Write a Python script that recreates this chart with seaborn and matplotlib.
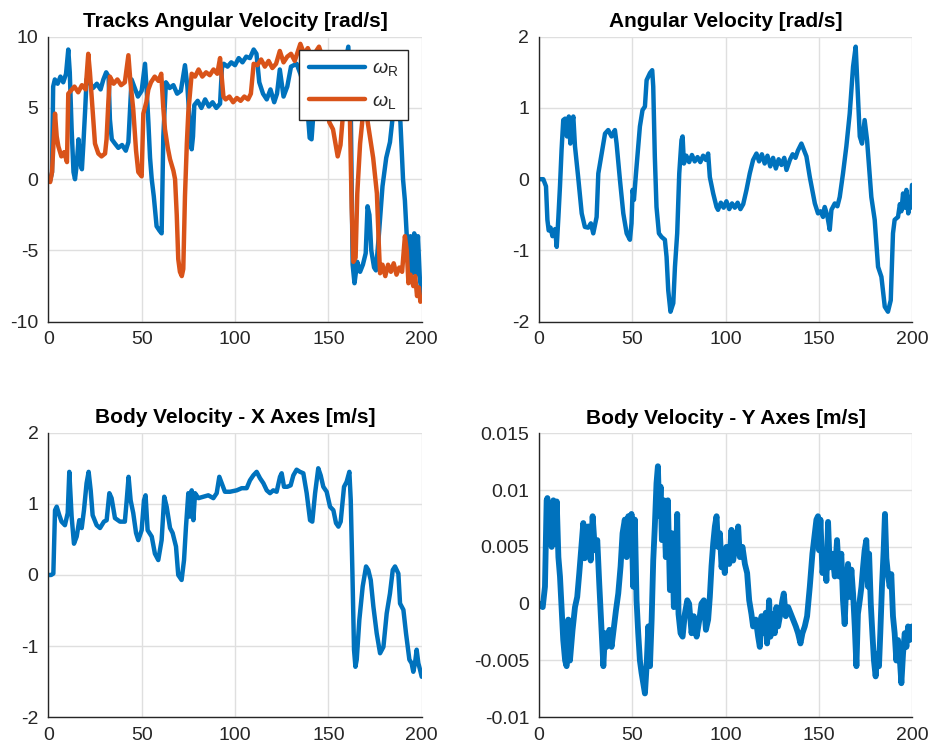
import matplotlib
matplotlib.use("Agg")
import matplotlib.pyplot as plt
import numpy as np
import pandas as pd
import seaborn as sns

# ---------------- data ----------------
# Track angular velocities
t_wr = [0, 1, 2, 2.6, 3.5, 5, 6.5, 8, 9.5, 10.7, 11.5, 12.5, 13.5, 14.3, 15.2, 16.2, 17, 18,
        18.8, 19.8, 20.5, 22, 24, 26, 28, 29.5, 31, 32.3, 33, 34, 35.7, 37.5, 39.5, 41.5, 42.9,
        43.8, 44.6, 46, 48, 50, 51.8, 52.8, 53.6, 54.5, 55.4, 56.5, 58, 59.5, 60.7, 61.6, 63,
        65, 67, 69, 71, 73.2, 74.5, 75.5, 76.8, 77.5, 78.2, 80, 82, 84, 86, 88, 90, 92, 93, 94,
        96, 98, 100, 102, 104, 106, 108, 110, 111.5, 113, 115, 117, 119, 121, 122.5, 124, 126,
        128, 130, 133, 135, 137, 138.5, 140, 141, 142.5, 144, 147, 150, 153, 156, 158.5, 160.7,
        162, 163, 164, 165.5, 167, 168.5, 170, 171, 172, 173, 174.5, 175.5, 177, 179, 181, 183,
        185, 186.5, 188.6, 190, 191, 192, 193, 194, 195, 196, 197, 198, 199, 200]
w_r = [0, -0.1, 0.5, 6.5, 7.0, 6.7, 7.2, 6.8, 7.4, 9.1, 7.5, 3.5, 0.5, 0.0, 1.0, 2.8, 1.2, 0.7,
       2.5, 5.0, 7.0, 6.8, 6.4, 6.7, 6.3, 7.0, 7.5, 7.2, 4.2, 2.8, 2.5, 2.2, 2.4, 2.0, 2.6,
       5.0, 7.0, 6.5, 5.8, 6.2, 8.1, 6.0, 4.0, 1.5, 0.0, -1.2, -3.3, -3.6, -3.8, 3.0, 6.8,
       6.4, 6.6, 6.0, 6.2, 8.0, 6.5, 4.5, 2.1, 3.0, 5.2, 5.5, 5.0, 5.6, 5.1, 5.4, 5.0, 5.3, 7.8, 8.1,
       7.9, 8.2, 8.0, 8.5, 8.2, 8.6, 8.5, 9.1, 8.8, 6.8, 6.0, 5.6, 6.3, 5.4, 6.0, 7.7, 5.8,
       6.5, 7.9, 8.1, 7.4, 6.5, 5.5, 2.9, 2.8, 5.5, 7.2, 7.6, 7.2, 7.5, 7.0, 7.8, 9.3,
       5.0, -6.0, -7.3, -5.8, -6.5, -6.0, -5.2, -1.9, -2.5, -5.0, -6.2, -6.4, -4.0, -0.5, 1.5, 2.6,
       5.0, 6.0, 4.0, 0.0, -1.5, -4.0, -6.5, -4.0, -6.6, -3.8, -6.7, -4.0, -7.0, -8.0]

t_wl = [0, 1, 2, 3, 3.6, 4.5, 5.4, 7, 8.5, 10, 10.7, 12, 14, 16, 18, 20, 21.4, 22.3, 23.2, 25,
        26.8, 28.5, 30.4, 31.2, 32.2, 33, 35, 37, 39, 41, 42.9, 44, 45.5, 47, 48.2, 50, 50.9,
        52.5, 53.6, 55, 57, 59, 60.5, 61.6, 62.5, 64, 65.2, 67, 67.9, 68.8, 69.6, 70.5, 71.5,
        72.3, 73.2, 74.2, 75, 76.8, 78.6, 80.5, 82.5, 84.5, 86.5, 88.5, 90.5, 92, 93, 93.8, 95,
        97, 99, 101, 103, 105, 107, 108.5, 110, 112, 114, 116, 118, 120, 122, 124, 126, 128,
        130, 132, 135, 137, 139, 141, 143, 145, 147, 149, 150.5, 152.5, 155, 156.5, 157.5, 159,
        160.5, 161.6, 162.5, 163.4, 164.6, 165.5, 167, 168.5, 169.6, 170.5, 172, 174, 176, 177,
        177.7, 179, 180.5, 182, 183.5, 185, 186.5, 188, 189.5, 191, 192, 192.9, 194, 195.5,
        196.5, 197.5, 198.5, 199.3, 200]
w_l = [0, -0.2, 0.5, 3.0, 4.6, 3.0, 2.3, 1.6, 1.9, 1.2, 6.0, 6.2, 6.5, 6.1, 6.6, 6.3, 8.8, 7.5,
       5.8, 2.5, 1.8, 1.6, 1.8, 2.8, 5.5, 7.2, 6.7, 7.0, 6.6, 6.8, 8.7, 6.8, 4.9, 2.0, 0.5, 0.2,
       4.6, 5.4, 6.3, 6.8, 7.2, 6.9, 7.4, 5.0, 3.5, 2.2, 1.4, 0.6, 0.0, -2.5, -5.6, -6.5, -6.8,
       -6.3, -1.2, 2.5, 4.7, 7.4, 7.2, 7.7, 7.2, 7.5, 7.3, 7.7, 7.4, 8.5, 7.0, 5.8, 5.6,
       5.8, 5.4, 5.7, 5.5, 5.8, 5.6, 6.0, 8.1, 8.0, 8.4, 7.9, 8.3, 7.8, 8.1, 9.0, 8.2, 8.6,
       8.8, 8.3, 9.5, 8.8, 9.2, 8.6, 8.9, 9.3, 8.5, 6.0, 4.0, 3.5, 1.6, 2.4, 4.0, 6.5,
       7.5, 4.0, -2.0, -5.8, -5.5, -1.0, 2.5, 4.5, 5.0, 4.5, 3.2, 1.5, -1.0, -4.5,
       -6.6, -6.0, -6.8, -6.0, -6.5, -5.9, -6.7, -6.2, -6.5, -4.0, -5.0, -7.3, -6.7, -7.5,
       -6.8, -8.2, -7.6, -8.6, -8.3]

# Body angular velocity
t_om = [0, 2.3, 3.75, 4.5, 5.2, 6.2, 7.2, 8.6, 9.5, 10.4, 11.25, 12.1, 13, 14, 15, 16, 16.8,
        17.5, 18.4, 19.3, 21, 22.9, 24.6, 26.4, 27.8, 29.1, 30.9, 31.8, 33.6, 35.4, 37.1, 38.9,
        40.7, 41.6, 43.4, 45.2, 47, 48.75, 49.6, 50.2, 50.9, 52, 54.1, 55.5, 56.8, 57.7, 59.5,
        60.7, 61.25, 62.1, 63, 64.3, 65.7, 67.5, 68.4, 69.3, 70.5, 72, 72.9, 74.1, 75.2, 76.4,
        77, 77.7, 79, 80.5, 82, 83.5, 85, 86.5, 88, 89.5, 90.7, 91.6, 93.4, 95.2, 96, 97.5, 99,
        100.5, 102, 103.5, 105, 106.5, 108, 109.5, 111.25, 113, 114.8, 116.6, 118, 119.5, 121,
        122.5, 124, 125.5, 127, 128.5, 130, 131.5, 132.7, 134.5, 136, 137.5, 138.8, 140.7,
        143.4, 145.2, 147.9, 149.6, 151, 152.3, 153.2, 154.5, 155.9, 156.8, 158.6, 160,
        161.25, 163, 164.8, 166.6, 168.4, 169.8, 170.7, 172, 173.2, 174.6, 175.9, 178.2, 180,
        181.8, 183.6, 185.4, 187.1, 188.6, 189.8, 190.7, 192.5, 193.5, 194.3, 195.2, 196.1, 197,
        198, 198.75, 199.4, 200]
omega = [0, 0.0, -0.1, -0.57, -0.72, -0.68, -0.8, -0.7, -0.95, -0.53, -0.1, 0.41, 0.83, 0.85,
         0.6, 0.88, 0.5, 0.75, 0.88, 0.46, 0.03, -0.48, -0.67, -0.68, -0.62, -0.76, -0.53,
         0.08, 0.36, 0.64, 0.69, 0.6, 0.69, 0.5, -0.01, -0.48, -0.76, -0.85, -0.62, -0.15,
         -0.29, 0.08, 0.74, 0.97, 1.02, 1.39, 1.49, 1.53, 1.3, 0.32, -0.39, -0.76, -0.81,
         -0.85, -1.09, -1.56, -1.86, -1.74, -1.23, -0.76, 0.08, 0.55, 0.6, 0.22, 0.33, 0.24,
         0.34, 0.25, 0.31, 0.24, 0.33, 0.27, 0.36, 0.03, -0.2, -0.39, -0.43, -0.33, -0.4,
         -0.31, -0.42, -0.34, -0.4, -0.33, -0.42, -0.35, -0.15, 0.08, 0.27, 0.36, 0.25, 0.35,
         0.22, 0.33, 0.18, 0.3, 0.15, 0.28, 0.2, 0.3, 0.13, 0.27, 0.35, 0.3, 0.4, 0.5,
         0.32, 0.03, -0.34, -0.48, -0.45, -0.53, -0.39, -0.5, -0.71, -0.43, -0.34, -0.38,
         -0.25, 0.08, 0.46, 0.92, 1.58, 1.86, 1.35, 0.6, 0.5, 0.83, 0.55, -0.25, -0.57,
         -1.23, -1.37, -1.79, -1.86, -1.7, -0.76, -0.57, -0.53, -0.35, -0.45, -0.2, -0.4, -0.15,
         -0.48, -0.25, -0.4, -0.08]

# Body velocity along X
t_vx = [0, 1.5, 2.7, 3.6, 4.5, 5.9, 7.1, 8.9, 10.4, 11.25, 12.5, 13.75, 15.2, 16.6, 17.9, 19.1,
        20.5, 21.6, 22.7, 23.75, 25.9, 27.7, 29.8, 31.25, 32.7, 33.9, 35.7, 38.4, 41, 42, 43,
        44.1, 45.5, 47, 48.2, 50, 51.25, 52.1, 53.2, 55.4, 57.1, 58.9, 60.7, 62.1, 63.4, 65.2,
        66.6, 68.4, 69.6, 71.4, 72.7, 73.75, 75, 75.9, 76.8, 77.7, 78.6, 80.4, 83, 85.7, 88.4,
        90.2, 91.6, 92.9, 94.6, 97.3, 100.9, 103.6, 106.25, 108, 109.8, 111.6, 113.4, 115.2,
        117, 118.75, 120.5, 122.3, 124.1, 125, 126.25, 128, 129.8, 131.25, 133, 134.8, 136.6,
        138.4, 140.2, 141.4, 142.9, 144.6, 145.9, 147.3, 149.1, 150.9, 152.7, 154.1, 155.4,
        156.6, 158.4, 159.8, 161.25, 162, 162.9, 163.75, 164.5, 165.2, 166.6, 168.4, 170.2,
        171.4, 172.7, 174.1, 175.9, 177.7, 179.5, 181.25, 183, 184.5, 185.7, 187.5, 188.4,
        190.2, 191.6, 193.4, 194.6, 195.5, 196.4, 197.3, 198.2, 199.1, 200]
v_x = [0, 0, 0.02, 0.91, 0.96, 0.84, 0.75, 0.7, 0.87, 1.45, 0.82, 0.44, 0.54, 0.77, 0.66, 0.91,
       1.29, 1.45, 1.19, 0.84, 0.7, 0.66, 0.75, 0.77, 1.15, 1.08, 0.8, 0.75, 0.75, 1.05, 1.38,
       1.05, 0.87, 0.59, 0.49, 0.63, 1.05, 1.12, 0.63, 0.54, 0.3, 0.21, 0.49, 1.1, 0.96, 0.66,
       0.59, 0.4, 0.0, -0.07, 0.21, 0.68, 1.15, 0.82, 1.19, 0.77, 1.15, 1.08, 1.1, 1.12, 1.08,
       1.15, 1.38, 1.29, 1.17, 1.17, 1.19, 1.22, 1.22, 1.33, 1.4, 1.45, 1.36, 1.29,
       1.19, 1.15, 1.19, 1.17, 1.38, 1.43, 1.24, 1.24, 1.26, 1.4, 1.48, 1.45, 1.43,
       1.15, 0.77, 0.75, 1.15, 1.5, 1.4, 1.24, 1.17, 0.96, 0.91, 0.73, 0.68,
       0.75, 1.24, 1.31, 1.45, 1.05, 0.02, -1.05, -1.29, -1.19, -0.63, -0.16, 0.12,
       0.07, -0.07, -0.44, -0.82, -1.1, -1.01, -0.54, -0.26, 0.07, 0.12, 0.02, -0.4,
       -0.49, -0.82, -1.19, -1.24, -1.36, -1.24, -1.05, -1.24, -1.33, -1.43]

# Body velocity along Y
t_vy = [0, 1, 2, 3.2, 4.1, 4.5, 5, 5.9, 6.8, 7.7, 8.6, 9.5, 10.4, 11.25, 12.1, 13, 14, 14.8,
        15.7, 16.6, 18, 19.3, 20.5, 21.6, 22.9, 23.75, 24.5, 25.2, 26.4, 27.7, 28.75, 30, 31.25,
        32.3, 33.6, 34.5, 35.4, 36.25, 37.7, 38.9, 40.2, 41.25, 42.5, 43.75, 44.8, 46, 47,
        47.9, 48.75, 49.6, 50.5, 51.4, 52.3, 53.2, 54.1, 55, 55.9, 56.8, 57.7, 58.6, 59.5,
        60.4, 61.25, 62.1, 63, 63.75, 64.5, 65.2, 65.9, 67, 68, 69.1, 70.2, 71.4, 72.3, 73.4,
        74.1, 74.8, 75.9, 77, 78.2, 79.5, 80.5, 81.8, 83, 84.5, 85.9, 87.1, 88.4, 89.5, 90.7,
        91.6, 92.5, 93.4, 94.3, 95.2, 96, 97, 97.9, 98.75, 99.6, 100.5, 102, 103.2, 104.1,
        105.5, 106.8, 107.7, 109.1, 110.4, 111.6, 112.7, 113.9, 114.8, 116.25, 117.5, 118.4,
        119.3, 120.5, 121.6, 122.3, 123.4, 124.1, 125.2, 126.4, 127.3, 128.2, 129.5, 130.5,
        131.25, 132.3, 133.6, 134.8, 136.25, 137.7, 138.9, 140.2, 141.25, 142.5, 143.75,
        145.2, 146.6, 147.9, 148.75, 149.6, 150.2, 150.9, 152, 153.2, 154.1, 155, 155.9,
        157.3, 158.6, 159.8, 160.9, 162.1, 163, 163.9, 164.8, 165.7, 166.6, 167.5, 168.4,
        169.3, 170.2, 171, 172, 172.9, 173.75, 174.6, 175.5, 176.4, 177, 177.9, 178.75,
        179.6, 180.5, 181.4, 182.3, 183, 183.9, 184.8, 185.5, 186.25, 187.1, 188, 188.9,
        189.8, 190.7, 191.6, 192.5, 193.4, 194.3, 195.2, 196.1, 197, 197.9, 198.75, 199.6, 200]
v_y = [0, -0.0002, -0.0003, 0.0015, 0.0091, 0.0093, 0.0056, 0.0085, 0.005, 0.0091, 0.0053,
       0.009, 0.0041, 0.0024, -0.0003, -0.0032, -0.005, -0.0055, -0.0014, -0.005, -0.0023,
       -0.0003, 0.0006, 0.0027, 0.0053, 0.0071, 0.004, 0.0053, 0.0068, 0.0038, 0.0077, 0.0047,
       0.0056, 0.0018, -0.0026, -0.0055, -0.0026, -0.0038, -0.0023, -0.0038, -0.002, -0.0006,
       0.0009, 0.0033, 0.0062, 0.0074, 0.0041, 0.0077, 0.005, 0.0079, 0.0015, 0.0074, 0.0003,
       -0.0026, -0.005, -0.0061, -0.007, -0.0079, -0.0055, -0.002, -0.0055, -0.0014, 0.0038,
       0.0068, 0.0106, 0.0121, 0.0077, 0.0103, 0.0056, 0.0091, 0.0041, 0.0091, 0.0012,
       0.0062, -0.0003, 0.0032, 0.0079, -0.0009, -0.0026, -0.0029, -0.0009, 0.0003, 0.0,
       -0.0026, -0.0011, -0.0029, -0.0015, 0.0, 0.0003, -0.0023, -0.0014, 0.0006, 0.0033,
       0.0053, 0.0068, 0.0077, 0.0050, 0.0062, 0.0032, 0.0047, 0.0027, 0.005, 0.0035, 0.0065,
       0.0038, 0.0053, 0.0068, 0.0041, 0.005, 0.0035, 0.0027, 0.0003, -0.0009, -0.002,
       -0.0014, -0.0029, -0.0038, -0.0011, -0.0026, -0.0008, -0.0035, 0.0003, -0.0029,
       -0.0009, -0.0026, -0.0003, -0.002, -0.0008, 0.0003, 0.0009, -0.0011, -0.0003,
       -0.0008, -0.0014, -0.002, -0.0026, -0.0035, -0.0026, -0.002, -0.0011, 0.0015, 0.0044,
       0.0062, 0.0074, 0.0077, 0.0047, 0.0074, 0.0027, 0.0044, 0.002, 0.0072, 0.0032,
       0.0044, 0.0024, 0.0056, 0.0024, 0.0044, 0.0003, -0.0018, 0.002, 0.0035, 0.0006,
       0.003, 0.0009, -0.002, -0.0055, -0.0009, 0.0003, 0.0015, 0.0032, 0.0047, 0.0056,
       0.0015, 0.0044, 0.0, -0.0026, -0.005, -0.0064, -0.0044, -0.0055, -0.0026, 0.0015,
       0.0047, 0.0079, 0.004, 0.0026, 0.0015, 0.0026, -0.0011, -0.0026, -0.005, -0.0032,
       -0.0047, -0.007, -0.0044, -0.0026, -0.0038, -0.002, -0.0032, -0.0023, -0.002]

x_ticks = [0, 50, 100, 150, 200]
tl_yticks = [-10, -5, 0, 5, 10]
tr_yticks = [-2, -1, 0, 1, 2]
bl_yticks = [-2, -1, 0, 1, 2]
br_yticks = [-0.01, -0.005, 0, 0.005, 0.01, 0.015]
br_ylabels = ["-0.01", "-0.005", "0", "0.005", "0.01", "0.015"]

titles = ["Tracks Angular Velocity [rad/s]", "Angular Velocity [rad/s]",
          "Body Velocity - X Axes [m/s]", "Body Velocity - Y Axes [m/s]"]
track_labels = [r"$\omega_{\rm R}$", r"$\omega_{\rm L}$"]

# ---------------- style ----------------
sns.set_theme(style="whitegrid")
plt.rcParams["font.family"] = ["Liberation Sans", "DejaVu Sans"]
plt.rcParams["axes.unicode_minus"] = False
plt.rcParams["mathtext.fontset"] = "custom"
plt.rcParams["mathtext.rm"] = "Liberation Sans"
plt.rcParams["mathtext.it"] = "Liberation Sans:italic"

BLUE = "#0072BD"
ORANGE = "#D95319"
INK = "#262626"
GRID = "#dfdfdf"
LW = 3.2

fig = plt.figure(figsize=(9.3, 7.51), dpi=100)
rects = [
    [48.3 / 930, 1 - 321.7 / 751, 373.4 / 930, 285 / 751],
    [539 / 930, 1 - 321.7 / 751, 373 / 930, 285 / 751],
    [48.3 / 930, 1 - 717.3 / 751, 373.4 / 930, 284.6 / 751],
    [539 / 930, 1 - 717.3 / 751, 373 / 930, 284 / 751],
]
axes = [fig.add_axes(r) for r in rects]

# Tracks
df_tracks = pd.concat([
    pd.DataFrame({"t": t_wr, "w": w_r, "track": track_labels[0]}),
    pd.DataFrame({"t": t_wl, "w": w_l, "track": track_labels[1]}),
])
sns.lineplot(data=df_tracks, x="t", y="w", hue="track", palette=[BLUE, ORANGE],
             ax=axes[0], linewidth=LW, sort=False, estimator=None, legend=False)
sns.lineplot(x=t_om, y=omega, ax=axes[1], color=BLUE, linewidth=LW, sort=False, estimator=None)
sns.lineplot(x=t_vx, y=v_x, ax=axes[2], color=BLUE, linewidth=LW, sort=False, estimator=None)
sns.lineplot(x=t_vy, y=v_y, ax=axes[3], color=BLUE, linewidth=4.2, sort=False, estimator=None)

ylims = [(-10, 10), (-2, 2), (-2, 2), (-0.01, 0.015)]
yticks = [tl_yticks, tr_yticks, bl_yticks, br_yticks]
for i, ax in enumerate(axes):
    ax.set_facecolor("white")
    ax.set_xlim(0, 200)
    ax.set_ylim(*ylims[i])
    ax.set_xticks(x_ticks)
    if i == 3:
        ax.set_yticks(br_yticks, br_ylabels)
    else:
        ax.set_yticks(yticks[i])
    ax.set_xlabel("")
    ax.set_ylabel("")
    ax.grid(True, color=GRID, linewidth=1.0)
    for side in ("top", "right"):
        ax.spines[side].set_visible(False)
    for side in ("left", "bottom"):
        ax.spines[side].set_visible(True)
        ax.spines[side].set_color(INK)
        ax.spines[side].set_linewidth(1.0)
    ax.tick_params(axis="both", direction="in", length=4, width=0.8, color=INK,
                   labelcolor=INK, labelsize=14, pad=7)
    ax.set_title(titles[i], fontsize=15, fontweight="bold", color="black", pad=7)

leg_handles = [plt.Line2D([], [], color=BLUE, linewidth=LW),
               plt.Line2D([], [], color=ORANGE, linewidth=LW)]
leg = axes[0].legend(leg_handles, track_labels, loc="upper right",
                     bbox_to_anchor=(0.963, 0.953), frameon=True, fancybox=False,
                     fontsize=14, handlelength=2.9, handletextpad=0.35,
                     borderpad=0.5, labelspacing=0.7, borderaxespad=0)
leg.get_frame().set_edgecolor(INK)
leg.get_frame().set_linewidth(1.0)
leg.get_frame().set_alpha(1)
for txt in leg.get_texts():
    txt.set_color(INK)

fig.savefig("out.png", dpi=100, facecolor="white")
